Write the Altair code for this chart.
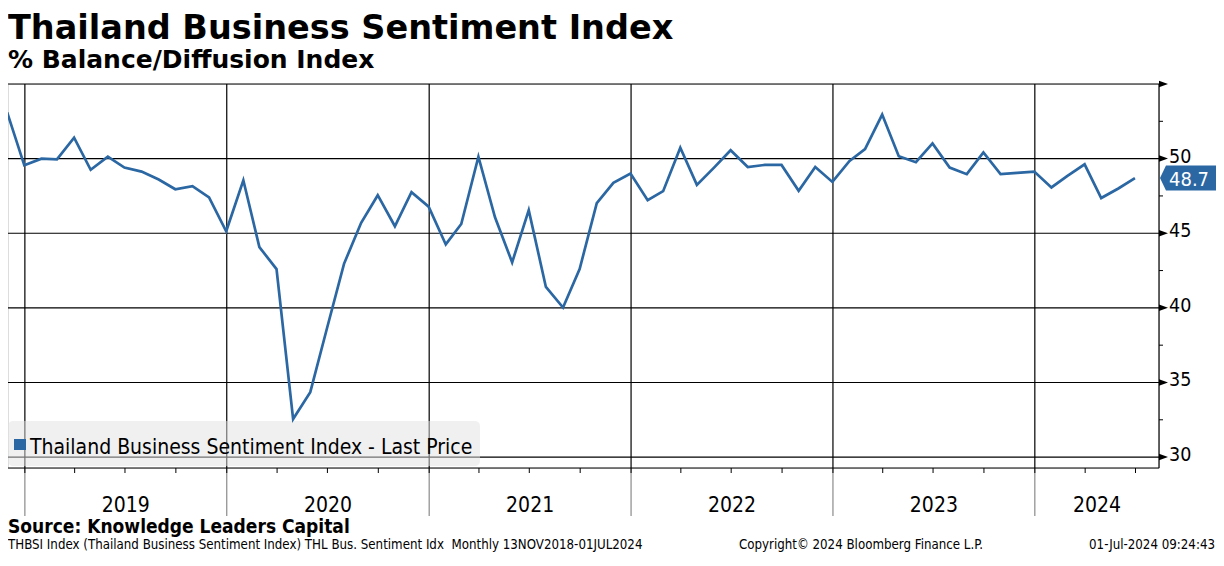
import altair as alt
import pandas as pd

# ---------------- texts ----------------
title_text = "Thailand Business Sentiment Index"
subtitle_text = "% Balance/Diffusion Index"
legend_text = "Thailand Business Sentiment Index - Last Price"
source_text = "Source: Knowledge Leaders Capital"
footer_left = "THBSI Index (Thailand Business Sentiment Index) THL Bus. Sentiment Idx\u00a0 Monthly 13NOV2018-01JUL2024"
footer_mid = "Copyright\u00a9 2024 Bloomberg Finance L.P."
footer_right = "01-Jul-2024 09:24:43"
last_label = "48.7"

# ---------------- data ----------------
months = [f"{y}-{m:02d}" for y in range(2018, 2025) for m in range(1, 13)
          if "2018-11" <= f"{y}-{m:02d}" <= "2024-06"]
values = [
    53.1, 49.55,
    50.0, 49.95, 51.4, 49.25, 50.13, 49.4, 49.13, 48.6, 47.95, 48.15, 47.4, 45.13,
    48.55, 44.07, 42.6, 32.55, 34.35, 38.6, 42.95, 45.7, 47.55, 45.47, 47.75, 46.78,
    44.25, 45.62, 50.13, 46.07, 43.05, 46.55, 41.4, 40.02, 42.6, 47.02, 48.38, 49.0,
    47.22, 47.82, 50.73, 48.24, 49.4, 50.56, 49.44, 49.58, 49.58, 47.84, 49.44, 48.44,
    49.84, 50.64, 52.95, 50.16, 49.76, 51.02, 49.4, 48.96, 50.42, 48.96, 49.05, 49.13,
    48.07, 48.85, 49.62, 47.36, 48.0, 48.7,
]
year_starts = ["2019-01-01", "2020-01-01", "2021-01-01", "2022-01-01", "2023-01-01", "2024-01-01"]
year_labels = ["2019", "2020", "2021", "2022", "2023", "2024"]
quarter_starts = [f"{y}-{m:02d}-01" for y in range(2019, 2025) for m in (1, 4, 7, 10)
                  if f"{y}-{m:02d}-01" <= "2024-07-01"]
y_grid = [30, 35, 40, 45, 50, 55]
y_label_values = [30, 35, 40, 45, 50]
y_label_texts = ["30", "35", "40", "45", "50"]
y_minor = [32.5, 37.5, 42.5, 47.5, 52.5]

x_end = pd.Timestamp("2024-08-12 12:00")

# ---------------- layout ----------------
W, H = 1151, 384
BLUE = "#2b67a3"
FONT = "DejaVu Sans Condensed, DejaVu Sans"
BFONT = "DejaVu Sans"

df = pd.DataFrame({"date": pd.to_datetime(months) + pd.offsets.MonthEnd(0), "value": values})
years_df = pd.DataFrame({"d": pd.to_datetime(year_starts)})
label_dates = []
for ys in year_starts:
    s = pd.Timestamp(ys)
    e = min(pd.Timestamp(f"{s.year + 1}-01-01"), x_end)
    label_dates.append(s + (e - s) / 2)
ylab_df = pd.DataFrame({"d": label_dates, "t": year_labels})
q_df = pd.DataFrame({"d": pd.to_datetime(quarter_starts)})
hg_df = pd.DataFrame({"yv": y_grid})
yl_df = pd.DataFrame({"yv": y_label_values, "t": y_label_texts})
ym_df = pd.DataFrame({"yv": y_minor})
last_df = pd.DataFrame({"yv": [values[-1]], "t": [last_label]})
one = pd.DataFrame({"k": [0]})

xscale = alt.Scale(domain=[alt.DateTime(year=2018, month=12, date=1, hours=12),
                           alt.DateTime(year=2024, month=8, date=12, hours=12)])
yscale = alt.Scale(domain=[29.27, 55], nice=False, zero=False)

def Y(field):
    return alt.Y(field, scale=yscale, axis=None)

def X(field):
    return alt.X(field, scale=xscale, axis=None)

hgrid = alt.Chart(hg_df).mark_rule(color="black", strokeWidth=1.2).encode(
    y=Y("yv:Q"), x=alt.value(0), x2=alt.value(W))
vgrid = alt.Chart(years_df).mark_rule(color="black", strokeWidth=1.2).encode(
    x=X("d:T"), y=alt.value(0), y2=alt.value(H))
vbelow = alt.Chart(years_df).mark_rule(color="#8a8a8a", strokeWidth=1.2).encode(
    x=X("d:T"), y=alt.value(H), y2=alt.value(H + 48))
qticks = alt.Chart(q_df).mark_rule(color="black", strokeWidth=1).encode(
    x=X("d:T"), y=alt.value(H), y2=alt.value(H + 5))
ylabels = alt.Chart(ylab_df).mark_text(font=FONT, fontSize=21, color="black",
                                       baseline="alphabetic", align="center").encode(
    x=X("d:T"), y=alt.value(H + 44), text="t:N")
xline = alt.Chart(one).mark_rule(color="black", strokeWidth=1.2).encode(
    x=alt.value(0), x2=alt.value(W), y=alt.value(H))
yline = alt.Chart(one).mark_rule(color="black", strokeWidth=1.2).encode(
    x=alt.value(W), y=alt.value(0), y2=alt.value(H))
yminor = alt.Chart(ym_df).mark_rule(color="black", strokeWidth=1).encode(
    y=Y("yv:Q"), x=alt.value(W), x2=alt.value(W + 4))
ytext = alt.Chart(yl_df).mark_text(font=FONT, fontSize=19.5, color="black", align="left",
                                   baseline="middle", dy=-2).encode(
    y=Y("yv:Q"), x=alt.value(W + 10), text="t:N")

legend_box = alt.Chart(one).mark_rect(fill="#e2e2e2", opacity=0.5, cornerRadius=5).encode(
    x=alt.value(0), x2=alt.value(472), y=alt.value(337), y2=alt.value(382))
legend_sq = alt.Chart(one).mark_rect(fill=BLUE).encode(
    x=alt.value(6), x2=alt.value(18), y=alt.value(355), y2=alt.value(366))
legend_tx = alt.Chart(pd.DataFrame({"t": [legend_text]})).mark_text(
    font=FONT, fontSize=21, color="black", align="left", baseline="alphabetic").encode(
    x=alt.value(22), y=alt.value(370), text="t:N")

line = alt.Chart(df).mark_line(color=BLUE, strokeWidth=2.7, clip=True).encode(
    x=X("date:T"), y=Y("value:Q"))

tri = alt.Chart(hg_df).mark_point(shape="M 0 -0.65 L 1.8 0 L 0 0.65 Z", filled=True,
                                  color="black", opacity=1, size=100, strokeWidth=0).encode(
    y=Y("yv:Q"), x=alt.value(W))

tag = alt.Chart(last_df).mark_point(shape="M -2.8 0 L -2.2 -1.25 L 2.8 -1.25 L 2.8 1.25 L -2.2 1.25 Z",
                                    filled=True, color=BLUE, opacity=1, size=400, strokeWidth=0).encode(
    y=Y("yv:Q"), x=alt.value(W + 29))
tag_tx = alt.Chart(last_df).mark_text(font=FONT, fontSize=20, color="white", align="left",
                                      baseline="middle", dy=1.5).encode(
    y=Y("yv:Q"), x=alt.value(W + 10), text="t:N")

def txt(s, x, y, size, font, bold=False, align="left"):
    return alt.Chart(pd.DataFrame({"t": [s]})).mark_text(
        font=font, fontSize=size, fontWeight="bold" if bold else "normal",
        color="black", align=align, baseline="alphabetic").encode(
        x=alt.value(x), y=alt.value(y), text="t:N")

texts = [
    txt(title_text, 0, -45, 33.5, BFONT, bold=True),
    txt(subtitle_text, 0, -16, 25, BFONT, bold=True),
    txt(source_text, 0, H + 65, 19, FONT, bold=True),
    txt(footer_left, 0, H + 81, 13.2, FONT),
    txt(footer_mid, 853, H + 81, 13.2, FONT, align="center"),
    txt(footer_right, W + 56, H + 81, 13.2, FONT, align="right"),
]

chart = alt.layer(
    hgrid, vgrid, vbelow, qticks, ylabels, xline, yline, yminor, ytext,
    legend_box, legend_sq, legend_tx, line, tri, tag, tag_tx, *texts
).properties(
    width=W, height=H,
    padding={"left": 0, "top": 76, "right": 57, "bottom": 84},
    autosize=alt.AutoSizeParams(type="none"),
).configure_view(stroke=None).configure(background="white")

chart.save("out.html", embed_options={"renderer": "svg", "actions": False})
